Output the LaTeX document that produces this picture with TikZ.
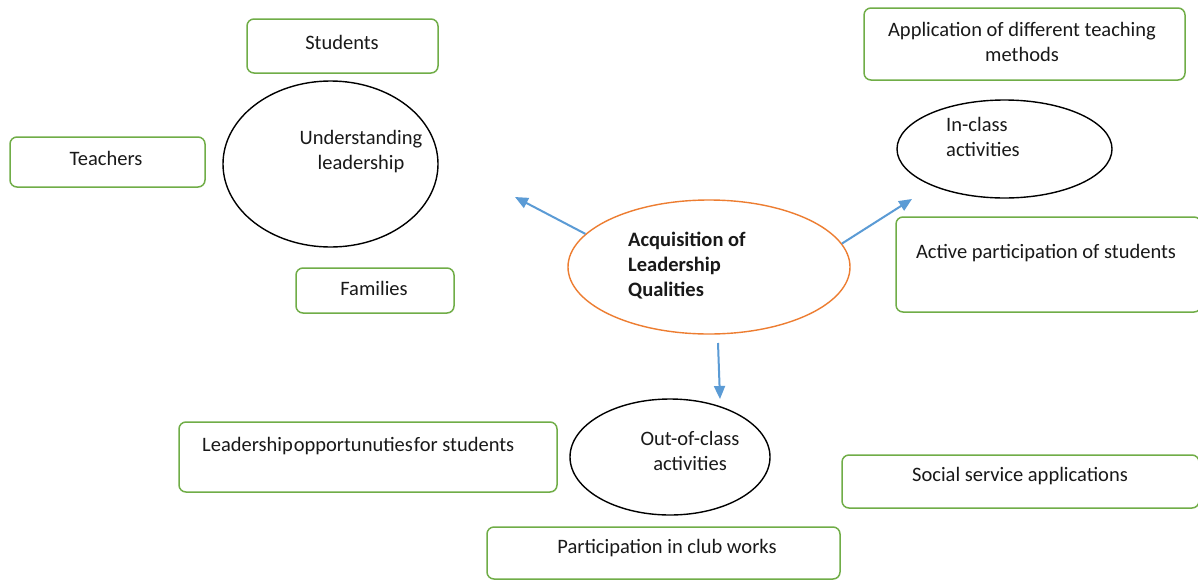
\documentclass[tikz,border=0pt]{standalone}
\usepackage{fontspec}
\setmainfont{Carlito}
\usetikzlibrary{shapes.geometric,arrows.meta}
\definecolor{boxgreen}{HTML}{70AD47}
\definecolor{ovalorange}{HTML}{ED7D31}
\definecolor{arrowblue}{HTML}{5B9BD5}
\begin{document}
\begin{tikzpicture}[x=1pt,y=-1pt,
  box/.style={draw=boxgreen,line width=1.5pt,rounded corners=7pt,inner sep=0pt},
  oval/.style={ellipse,draw=black,line width=1.4pt,inner sep=0pt},
  lbl/.style={font=\fontsize{20.5}{25}\selectfont,inner sep=0pt,align=center,text=black!90},
  arr/.style={draw=arrowblue,line width=2pt,-{Triangle[length=13pt,width=11pt]}}]
\useasboundingbox (0,0) rectangle (1198,581);
\fill[white] (0,0) rectangle (1198,581);

% boxes
\node[box,minimum width=191pt,minimum height=54pt] (students) at (342.5,46) {};
\node[box,minimum width=195pt,minimum height=50pt] (teachers) at (107.5,162) {};
\node[box,minimum width=158pt,minimum height=45pt] (families) at (375,290.5) {};
\node[box,minimum width=321pt,minimum height=72pt] (appl) at (1024.5,44) {};
\node[box,minimum width=305pt,minimum height=95pt] (active) at (1048.5,264.5) {};
\node[box,minimum width=378pt,minimum height=70pt] (leadopp) at (368,457) {};
\node[box,minimum width=357pt,minimum height=53pt] (social) at (1020.5,481.5) {};
\node[box,minimum width=353pt,minimum height=52pt] (club) at (663.5,553) {};

% ellipses
\node[oval,minimum width=215pt,minimum height=166pt] (under) at (330.5,164) {};
\node[oval,draw=ovalorange,minimum width=282pt,minimum height=134pt] (central) at (709,267) {};
\node[oval,minimum width=215pt,minimum height=98pt] (inclass) at (1004.5,149) {};
\node[oval,minimum width=200pt,minimum height=116pt] (outclass) at (670,457) {};

% texts
\node[lbl] (tstudents) at (342,42) {Students};
\node[lbl] (tteachers) at (106,158) {Teachers};
\node[lbl] (tfamilies) at (374,288) {Families};
\node[lbl] (tunder) at (361,152) {Understanding\\leadership};
\node[lbl,anchor=west,align=left,font=\fontsize{20.5}{25}\selectfont\bfseries] (tcentral) at (628,266) {Acquisition of\\Leadership\\Qualities};
\node[lbl,anchor=west,align=left] (tinclass) at (946,137) {In-class\\activities};
\node[lbl] (tappl) at (1022,42) {Application of different teaching\\methods};
\node[lbl] (tactive) at (1046,253) {Active participation of students};
\node[lbl] (toutclass) at (690,451) {Out-of-class\\activities};
\node[lbl,anchor=west] (tleadopp) at (202,446) {Leadership\hspace{1pt}opportunuties\hspace{1pt}for students};
\node[lbl] (tsocial) at (1020,476) {Social service applications};
\node[lbl] (tclub) at (667,548) {Participation in club works};

% arrows
\coordinate (e1) at (515,197);
\coordinate (e2) at (912,199);
\coordinate (s3) at (718,343);
\coordinate (e3) at (720,399);
\draw[arr] (central.165) -- (e1);
\draw[arr] (central.10) -- (e2);
\draw[arr] (s3) -- (e3);
\end{tikzpicture}
\end{document}
